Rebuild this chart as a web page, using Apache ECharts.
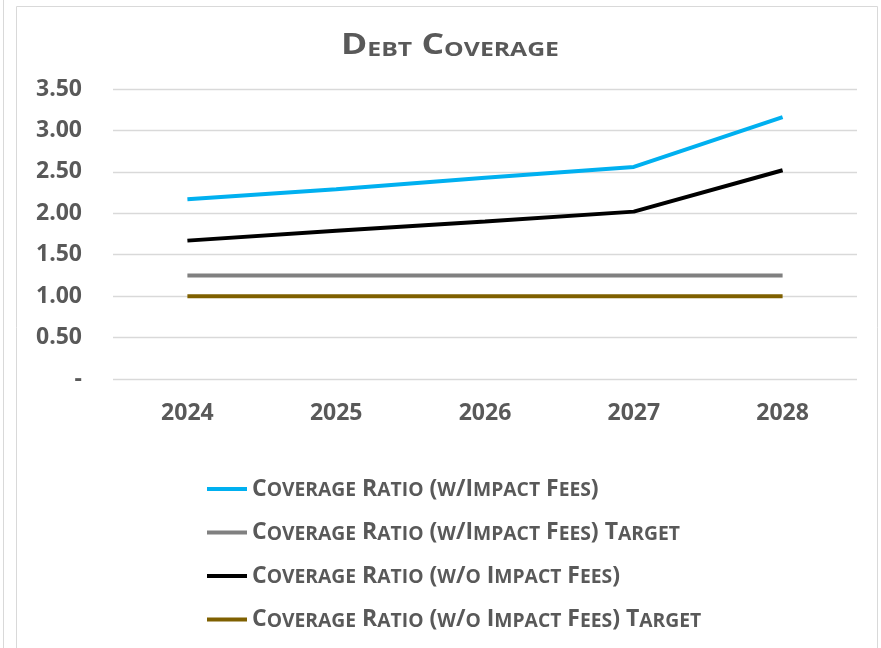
<!DOCTYPE html>
<html><head><meta charset="utf-8">
<script src="https://cdn.jsdelivr.net/npm/echarts@6/dist/echarts.min.js"></script>
<style>html,body{margin:0;padding:0;background:#fff}#c{width:881px;height:648px}</style>
</head><body><div id="c"></div>
<script>
const categories = ['2024','2025','2026','2027','2028'];
const withFees = [2.17, 2.29, 2.43, 2.56, 3.16];
const withFeesTarget = [1.25, 1.25, 1.25, 1.25, 1.25];
const withoutFees = [1.67, 1.79, 1.90, 2.02, 2.52];
const withoutFeesTarget = [1.00, 1.00, 1.00, 1.00, 1.00];
const seriesNames = [
  'Coverage Ratio (w/Impact Fees)',
  'Coverage Ratio (w/Impact Fees) Target',
  'Coverage Ratio (w/o Impact Fees)',
  'Coverage Ratio (w/o Impact Fees) Target'
];
const titleText = 'Debt Coverage';
const yTicks = {0:'-',0.5:'0.50',1:'1.00',1.5:'1.50',2:'2.00',2.5:'2.50',3:'3.00',3.5:'3.50'};

// small caps via rich text: capitals at full size, lowercase letters shown as smaller capitals
function smallCaps(s){
  let out='', cur='', curType=null;
  const flush=()=>{ if(cur){ out += '{'+curType+'|'+cur+'}'; cur=''; } };
  for(const ch of s){
    const isLower = ch !== ch.toUpperCase();
    const t = isLower ? 's' : 'b';
    if(t!==curType){ flush(); curType=t; }
    cur += isLower ? ch.toUpperCase() : ch;
  }
  flush();
  return out;
}

const colors = ['#00B0F0','#808080','#000000','#7F6000'];
const data = [withFees, withFeesTarget, withoutFees, withoutFeesTarget];
const TXT = '#595959';
const FONT = '"Open Sans", sans-serif';

const chart = echarts.init(document.getElementById('c'));
chart.setOption({
  animation:false,
  graphic:[
    {type:'line', silent:true, shape:{x1:3.5,y1:0,x2:3.5,y2:648}, style:{stroke:'#d9d9d9',lineWidth:1}},
    {type:'polyline', silent:true, shape:{points:[[16.5,648],[16.5,6.5],[877.5,6.5],[877.5,648]]}, style:{stroke:'#d9d9d9',lineWidth:1,fill:null}},
    {type:'text', silent:true, x:450, y:46, scaleX:1.27, scaleY:1,
      style:{
        text: smallCaps(titleText), align:'center', verticalAlign:'middle',
        fill:TXT, font:'bold 28px "Open Sans", sans-serif',
        rich:{
          b:{fontFamily:FONT,fontSize:28,fontWeight:'bold',fill:TXT,color:TXT,verticalAlign:'bottom'},
          s:{fontFamily:FONT,fontSize:19.5,fontWeight:'bold',fill:TXT,color:TXT,verticalAlign:'bottom'}
        }
      }
    }
  ],
  grid:{left:113, right:24, top:89, bottom:648-379, containLabel:false},
  xAxis:{
    type:'category', data:categories, boundaryGap:true,
    axisLine:{show:false}, axisTick:{show:false},
    axisLabel:{fontFamily:FONT,fontSize:23,fontWeight:'bold',color:TXT,margin:23}
  },
  yAxis:{
    type:'value', min:0, max:3.5, interval:0.5,
    axisLine:{show:false}, axisTick:{show:false},
    splitLine:{lineStyle:{color:'#d9d9d9',width:1.3}},
    axisLabel:{fontFamily:FONT,fontSize:23,fontWeight:'bold',color:TXT,margin:31,
      formatter:v=>yTicks[v] !== undefined ? yTicks[v] : v.toFixed(2)}
  },
  legend:{
    orient:'vertical', left:202, top:472.5, itemGap:20.5,
    itemWidth:40, itemHeight:4, icon:'rect',
    formatter:n=>smallCaps(n),
    textStyle:{
      fontFamily:FONT, color:TXT,
      rich:{
        b:{fontFamily:FONT,fontSize:23,fontWeight:'bold',color:TXT,verticalAlign:'bottom'},
        s:{fontFamily:FONT,fontSize:19.3,fontWeight:'bold',color:TXT,verticalAlign:'bottom'}
      }
    },
    data: seriesNames
  },
  series: seriesNames.map((n,i)=>({
    name:n, type:'line', data:data[i], symbol:'none',
    lineStyle:{color:colors[i], width:4}, itemStyle:{color:colors[i]}
  }))
});
</script></body></html>
